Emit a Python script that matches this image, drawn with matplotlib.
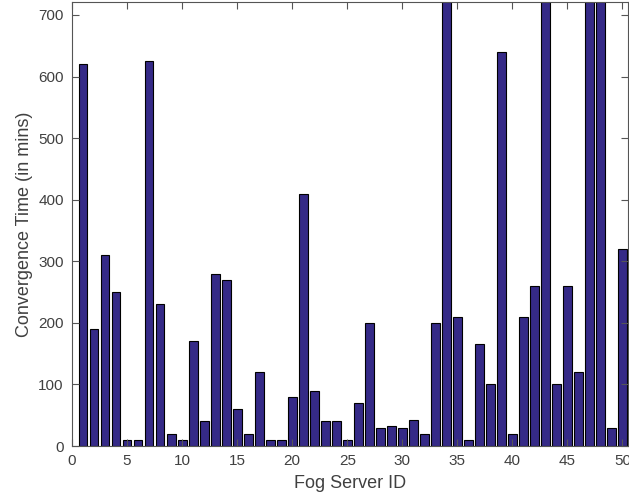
import numpy as np
import matplotlib.pyplot as plt

plt.rcParams['font.family'] = ['Liberation Sans', 'DejaVu Sans']

# Server IDs and convergence times (mins); bars 34, 43, 47, 48 run off the top
server_ids = np.arange(1, 51)
conv_time = [620, 190, 310, 250, 10, 10, 625, 230, 20, 10,
             170, 40, 280, 270, 60, 20, 120, 10, 10, 80,
             410, 90, 40, 40, 10, 70, 200, 30, 32, 30,
             43, 20, 200, 900, 210, 10, 165, 100, 640, 20,
             210, 260, 850, 100, 260, 120, 950, 1000, 30, 320]

txt = '#404040'
fig = plt.figure(figsize=(6.29, 5.03), dpi=100)
ax = fig.add_axes([0.1145, 0.1133, 0.8839, 0.8827])

ax.bar(server_ids, conv_time, width=0.8, color='#352A87',
       edgecolor='black', linewidth=0.8)

ax.set_xlim(0, 50.5)
ax.set_ylim(0, 721)
ax.set_xticks(np.arange(0, 51, 5))
ax.set_yticks(np.arange(0, 701, 100))

ax.set_xlabel('Fog Server ID', fontsize=13, color=txt, labelpad=5)
ax.set_ylabel('Convergence Time (in mins)', fontsize=13, color=txt, labelpad=4)

ax.tick_params(direction='in', top=True, right=True, labelsize=11,
               colors='#555555', labelcolor=txt, length=5, width=0.8, pad=6)
for s in ax.spines.values():
    s.set_color('#555555')
    s.set_linewidth(0.8)

fig.savefig('out.png', dpi=100)
